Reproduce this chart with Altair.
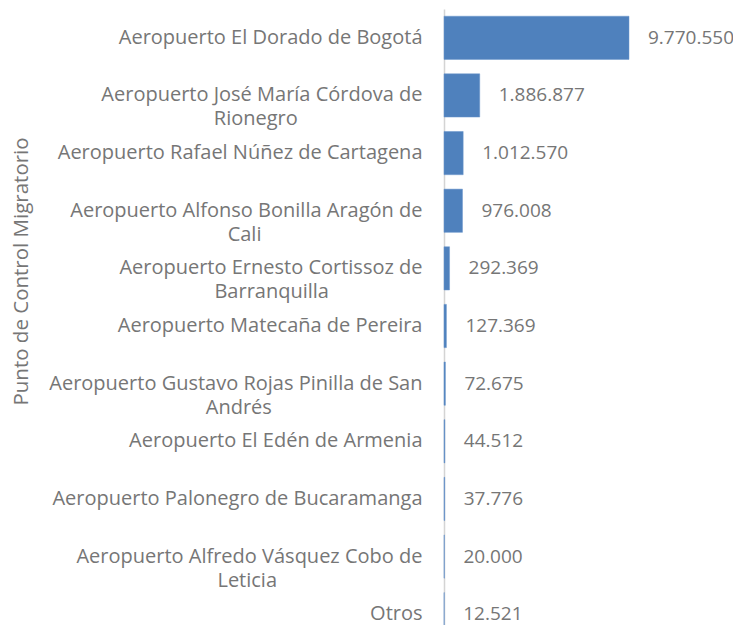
import altair as alt
import pandas as pd

categories = [
    "Aeropuerto El Dorado de Bogotá",
    "Aeropuerto José María Córdova de Rionegro",
    "Aeropuerto Rafael Núñez de Cartagena",
    "Aeropuerto Alfonso Bonilla Aragón de Cali",
    "Aeropuerto Ernesto Cortissoz de Barranquilla",
    "Aeropuerto Matecaña de Pereira",
    "Aeropuerto Gustavo Rojas Pinilla de San Andrés",
    "Aeropuerto El Edén de Armenia",
    "Aeropuerto Palonegro de Bucaramanga",
    "Aeropuerto Alfredo Vásquez Cobo de Leticia",
    "Otros",
]
values = [9770550, 1886877, 1012570, 976008, 292369, 127369, 72675, 44512, 37776, 20000, 12521]

# wrapped display of the long labels: (first line, second line)
wrapped = {
    "Aeropuerto José María Córdova de Rionegro": ("Aeropuerto José María Córdova de", "Rionegro"),
    "Aeropuerto Alfonso Bonilla Aragón de Cali": ("Aeropuerto Alfonso Bonilla Aragón de", "Cali"),
    "Aeropuerto Ernesto Cortissoz de Barranquilla": ("Aeropuerto Ernesto Cortissoz de", "Barranquilla"),
    "Aeropuerto Gustavo Rojas Pinilla de San Andrés": ("Aeropuerto Gustavo Rojas Pinilla de San", "Andrés"),
    "Aeropuerto Alfredo Vásquez Cobo de Leticia": ("Aeropuerto Alfredo Vásquez Cobo de", "Leticia"),
}
# non-breaking spaces that visually centre the second line under the first
center_pad = {
    "Aeropuerto José María Córdova de Rionegro": 24,
    "Aeropuerto Alfonso Bonilla Aragón de Cali": 31,
    "Aeropuerto Ernesto Cortissoz de Barranquilla": 18,
    "Aeropuerto Gustavo Rojas Pinilla de San Andrés": 29,
    "Aeropuerto Alfredo Vásquez Cobo de Leticia": 28,
}

def display(c):
    if c in wrapped:
        a, b = wrapped[c]
        # zero-width space at the end keeps the padding from being trimmed
        return a + "|" + b + "\u00a0" * center_pad[c] + "\u200b"
    return c

value_labels = [f"{v:,}".replace(",", ".") for v in values]

df = pd.DataFrame({
    "punto": [display(c) for c in categories],
    "valor": values,
    "etiqueta": value_labels,
})
order = list(df["punto"])

FONT = "Open Sans"
GRAY = "#767676"

y_enc = alt.Y(
    "punto:N",
    sort=order,
    scale=alt.Scale(range=[1, 635], paddingInner=0.25, paddingOuter=0.125),
    axis=alt.Axis(
        title="Punto de Control Migratorio",
        titleFont=FONT, titleFontSize=20.5, titleFontWeight="normal", titleColor=GRAY,
        titleX=-423, titleY=263, titleAngle=270, titleBaseline="middle", titleAlign="center",
        labelExpr="split(datum.value, '|')",
        labelFont=FONT, labelFontSize=20, labelColor=GRAY, labelLineHeight=24,
        labelPadding=22, labelLimit=430,
        ticks=False, grid=False,
        domainColor="#d4d4d4", domainWidth=1.5,
    ),
)

x_enc = alt.X("valor:Q", scale=alt.Scale(domain=[0, 15263000]), axis=None)

bars = alt.Chart(df).mark_bar(color="#4F81BD", stroke="#6b96cc", strokeWidth=0.5).encode(
    x=x_enc, y=y_enc
)

text = alt.Chart(df).mark_text(
    align="left", baseline="middle", dx=19, font=FONT, fontSize=19, color=GRAY
).encode(x=x_enc, y=alt.Y("punto:N", sort=order), text="etiqueta:N")

chart = (
    alt.layer(bars, text)
    .properties(
        width=289,
        height=617,
        autosize=alt.AutoSizeParams(type="none"),
        padding={"left": 436, "top": 0, "right": 0, "bottom": 0},
    )
    .configure_view(stroke=None)
)

chart.save("out.html", embed_options={"renderer": "svg", "actions": False})
